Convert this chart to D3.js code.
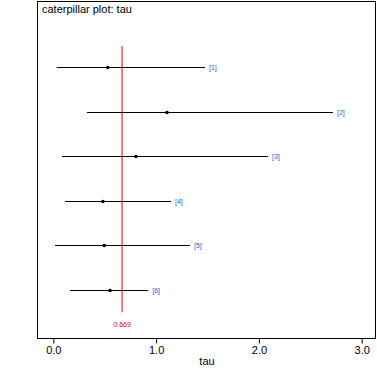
<!DOCTYPE html>
<html>
<head>
<meta charset="utf-8">
<script src="https://cdn.jsdelivr.net/npm/d3@7"></script>
<style>
  body { margin: 0; background: #fff; }
  text { font-family: "Liberation Sans", Arial, sans-serif; }
</style>
</head>
<body>
<script>
const labels = ["[1]", "[2]", "[3]", "[4]", "[5]", "[6]"];
const means = [0.529, 1.106, 0.804, 0.483, 0.496, 0.552];
const lower = [0.033, 0.328, 0.085, 0.114, 0.017, 0.162];
const upper = [1.476, 2.721, 2.088, 1.145, 1.330, 0.924];
const refValue = 0.669;
const xTicks = [0.0, 1.0, 2.0, 3.0];

function main(){
    const canvasWidth = 377;
    const canvasHeight = 377;

    const svg = d3.select("body").append("svg")
        .attr("width", canvasWidth)
        .attr("height", canvasHeight);

    // plot frame
    const box = {left: 37.5, right: 375.5, top: 1.5, bottom: 338.5};

    svg.append("rect")
        .attr("x", box.left)
        .attr("y", box.top)
        .attr("width", box.right - box.left)
        .attr("height", box.bottom - box.top)
        .attr("fill", "none")
        .attr("stroke", "#000")
        .attr("stroke-width", 1);

    svg.append("text")
        .attr("x", 42)
        .attr("y", 13)
        .attr("font-size", "11px")
        .attr("fill", "#000")
        .text("caterpillar plot: tau");

    const xScale = d3.scaleLinear().domain([0, 3]).range([53.3, 361.7]);
    const yScale = d3.scaleLinear().domain([1, 6]).range([67, 290]);

    // reference line
    svg.append("line")
        .attr("x1", xScale(refValue))
        .attr("x2", xScale(refValue))
        .attr("y1", yScale(0.53))
        .attr("y2", yScale(6.5))
        .attr("stroke", "#e00000")
        .attr("stroke-width", 1);

    svg.append("text")
        .attr("x", xScale(refValue))
        .attr("y", 327)
        .attr("text-anchor", "middle")
        .attr("font-size", "7px")
        .attr("fill", "#e00000")
        .text(refValue.toFixed(3));

    const rows = labels.map((d, i) => ({label: d, mean: means[i], lo: lower[i], hi: upper[i], idx: i + 1}));

    const g = svg.append("g");
    g.selectAll("line.ci")
        .data(rows)
        .join("line")
        .attr("class", "ci")
        .attr("x1", d => xScale(d.lo))
        .attr("x2", d => xScale(d.hi))
        .attr("y1", d => Math.round(yScale(d.idx)) + 0.5)
        .attr("y2", d => Math.round(yScale(d.idx)) + 0.5)
        .attr("stroke", "#000")
        .attr("stroke-width", 1.2);

    g.selectAll("circle")
        .data(rows)
        .join("circle")
        .attr("cx", d => xScale(d.mean))
        .attr("cy", d => Math.round(yScale(d.idx)) + 0.5)
        .attr("r", 1.8)
        .attr("fill", "#000");

    g.selectAll("text.lab")
        .data(rows)
        .join("text")
        .attr("class", "lab")
        .attr("x", d => xScale(d.hi) + 4)
        .attr("y", d => Math.round(yScale(d.idx)) + 3)
        .attr("font-size", "7px")
        .attr("fill", "#2060d0")
        .text(d => d.label);

    // x axis below the frame
    const axis = d3.axisBottom(xScale)
        .tickValues(xTicks)
        .tickSize(5)
        .tickPadding(3)
        .tickFormat(d3.format(".1f"));

    const ax = svg.append("g")
        .attr("transform", `translate(0,${box.bottom})`)
        .call(axis);
    ax.select(".domain").remove();
    ax.selectAll("text")
        .attr("font-size", "11px")
        .attr("font-family", "Liberation Sans, Arial, sans-serif")
        .attr("fill", "#000");

    svg.append("text")
        .attr("x", 207)
        .attr("y", 365)
        .attr("text-anchor", "middle")
        .attr("font-size", "11px")
        .attr("fill", "#000")
        .text("tau");
}
main();
</script>
</body>
</html>
